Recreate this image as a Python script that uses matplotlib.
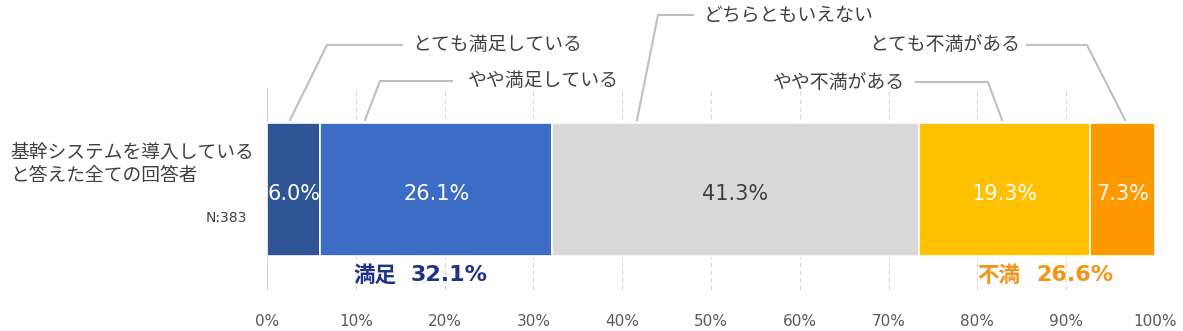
import matplotlib
matplotlib.use("Agg")
import matplotlib.pyplot as plt

plt.rcParams['font.family'] = ['Noto Sans CJK JP', 'DejaVu Sans']
NUM = ['DejaVu Sans']

categories = ["とても満足している", "やや満足している", "どちらともいえない", "やや不満がある", "とても不満がある"]
values = [6.0, 26.1, 41.3, 19.3, 7.3]
colors = ["#2F5597", "#3C6CC4", "#D9D9D9", "#FFC000", "#FF9900"]
text_colors = ["white", "white", "#404040", "white", "white"]
row_label = "基幹システムを導入している\nと答えた全ての回答者"
n_label = "N:383"
ticks = [0, 10, 20, 30, 40, 50, 60, 70, 80, 90, 100]
satisfied = ("満足", "32.1%")
unsatisfied = ("不満", "26.6%")

W, H = 1183, 331
fig = plt.figure(figsize=(W / 100, H / 100), dpi=100)
x0, x1 = 267, 1155
ytop, ybot = 88, 290
ax = fig.add_axes([x0 / W, 1 - ybot / H, (x1 - x0) / W, (ybot - ytop) / H])
ax.set_xlim(0, 100)
ax.set_ylim(-1, 1)


def py(p):
    # pixel row -> data y
    return 1 - 2 * (p - ytop) / (ybot - ytop)


def px(p):
    return (p - x0) / (x1 - x0) * 100


for t in ticks[1:]:
    ax.axvline(t, color="#D9D9D9", lw=0.8, ls=(0, (4, 3)), zorder=0)
ax.axvline(0, color="#D0D0D0", lw=1.5, zorder=0)

left = 0
for v, c, tc in zip(values, colors, text_colors):
    ax.barh(0, v, left=left, height=py(122) - py(255), color=c,
            edgecolor="white", linewidth=1.2, zorder=2)
    ax.text(left + v / 2, py(194), f"{v:.1f}%", ha="center", va="center",
            color=tc, fontsize=15, family=NUM, zorder=3)
    left += v

# leader lines (pixel coordinates) and labels
leaders = [
    ([290, 327, 402], [120, 45, 45], 412, 45, "left"),
    ([365, 380, 452], [120, 81, 81], 468, 81, "left"),
    ([637, 658, 693], [120, 15, 15], 704, 15, "left"),
    ([1002, 988, 916], [120, 82, 82], 905, 82, "right"),
    ([1125, 1087, 1027], [120, 45, 45], 1020, 45, "right"),
]
for i, (xs, ys, tx, ty, ha) in enumerate(leaders):
    ax.plot([px(x) for x in xs], [py(y) for y in ys], color="#BFBFBF",
            lw=1.5, clip_on=False, zorder=1)
    ax.text(px(tx), py(ty), categories[i], ha=ha, va="center",
            fontsize=13.6, color="#404040", clip_on=False)

ax.text(px(10), py(164), row_label, ha="left", va="center", fontsize=13.5,
        color="#404040", linespacing=1.15, clip_on=False)
ax.text(px(247), py(218), n_label, ha="right", va="center", fontsize=10,
        family=NUM, color="#404040", clip_on=False)

for (word, num), xw, xn, col in [(satisfied, 354, 411, "#1F3288"),
                                  (unsatisfied, 977, 1036, "#F39418")]:
    ax.text(px(xw), py(275), word, ha="left", va="center", fontsize=15.5,
            fontweight="bold", color=col, clip_on=False)
    ax.text(px(xn), py(275), num, ha="left", va="center", fontsize=16,
            fontweight="bold", family=NUM, color=col, clip_on=False)

ax.set_xticks(ticks)
ax.set_xticklabels([f"{t}%" for t in ticks], fontsize=11, family=NUM,
                   color="#595959")
ax.tick_params(axis="x", length=0, pad=17)
ax.set_yticks([])
for s in ax.spines.values():
    s.set_visible(False)
ax.patch.set_alpha(0)

fig.savefig("out.png", dpi=100)
